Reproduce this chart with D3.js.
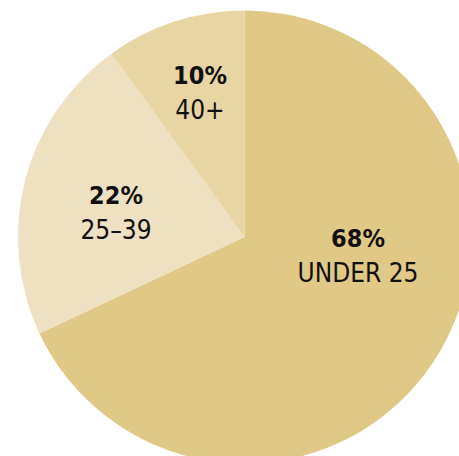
<!DOCTYPE html>
<html><head><meta charset="utf-8">
<script src="https://cdn.jsdelivr.net/npm/d3@7"></script>
<style>html,body{margin:0;padding:0;background:#fff;overflow:hidden}</style>
</head><body>
<svg id="chart" width="459" height="456"></svg>
<script>
const categories = ["UNDER 25", "25–39", "40+"];
const values = [68, 22, 10];
const percentLabels = ["68%", "22%", "10%"];
const colors = ["#e0c887", "#eee1c1", "#e7d5a3"];
// label anchor points (layout, px): [x, baseline of first line]
const labelPos = [[358, 247], [116, 204], [200, 84]];

const svg = d3.select("#chart");
const cx = 244.5, cy = 237, r = 226.5;
const g = svg.append("g").attr("transform", `translate(${cx},${cy})`);
const pie = d3.pie().sort(null).value(d => d)(values);
const arc = d3.arc().innerRadius(0).outerRadius(r);
g.selectAll("path").data(pie).join("path")
  .attr("d", arc).attr("fill", (d, i) => colors[i]);

const font = "'DejaVu Sans Condensed', 'DejaVu Sans', sans-serif";
const lbl = svg.append("g");
categories.forEach((c, i) => {
  const [x, y] = labelPos[i];
  lbl.append("text").attr("x", x).attr("y", y).attr("text-anchor", "middle")
    .attr("font-family", font).attr("font-weight", "bold").attr("font-size", 25)
    .attr("fill", "#111").text(percentLabels[i]);
  lbl.append("text").attr("x", x).attr("y", y + 35).attr("text-anchor", "middle")
    .attr("font-family", font).attr("font-size", 26)
    .attr("fill", "#111").text(c);
});
</script>
</body></html>
